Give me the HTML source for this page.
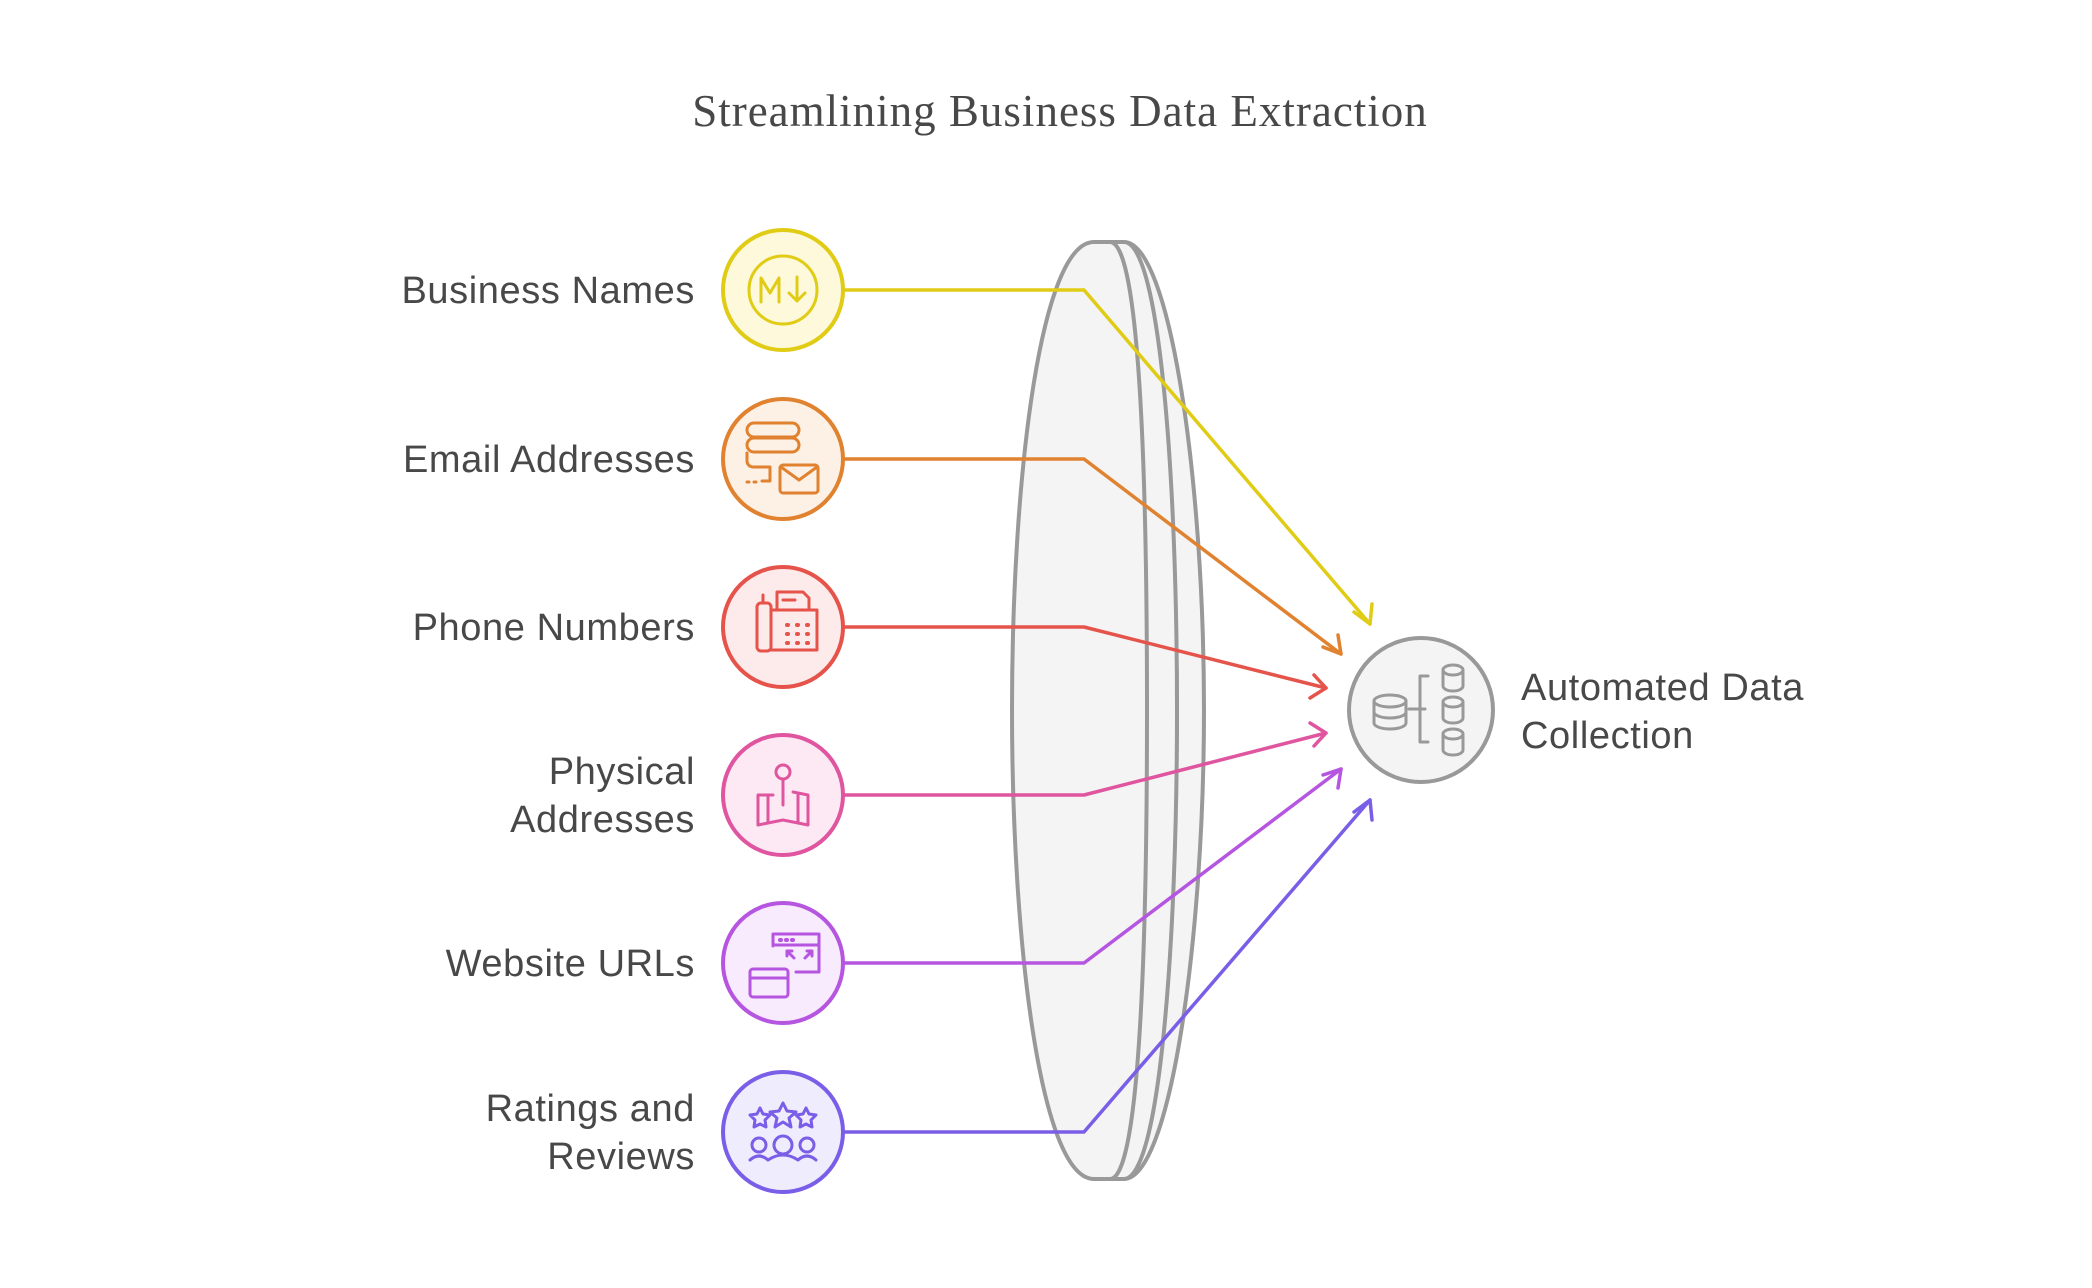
<!DOCTYPE html>
<html><head><meta charset="utf-8"><style>
html,body{margin:0;padding:0;background:#fff;}
svg{display:block;}
.lbl{font-family:"Liberation Sans",sans-serif;font-size:38px;letter-spacing:0.6px;fill:#484848;}
</style></head><body>
<svg width="2092" height="1288" viewBox="0 0 2092 1288" xmlns="http://www.w3.org/2000/svg">
<text x="1060" y="126" text-anchor="middle" font-family="'Liberation Serif',serif" font-size="45" letter-spacing="1" fill="#484848">Streamlining Business Data Extraction</text>

<!-- lens -->
<g stroke="#999" stroke-width="4" fill="#f4f4f4">
<path d="M1124,242 C1170,242 1204,480 1204,710 C1204,940 1170,1179 1124,1179 L1100,1179 C1140,1179 1177,940 1177,710 C1177,480 1140,242 1100,242 Z"/>
<path d="M1124,242 C1160,242 1177,480 1177,710 C1177,940 1160,1179 1124,1179"/>
<path d="M1094,242 C1040,242 1012,480 1012,710 C1012,940 1040,1179 1094,1179 L1110,1179 C1140,1179 1147,940 1147,710 C1147,480 1140,242 1110,242 Z"/>
<path d="M1094,242 L1124,242 M1094,1179 L1124,1179" fill="none"/>
</g>

<!-- connectors -->
<g fill="none" stroke-width="3.5" stroke-linecap="round" stroke-linejoin="round">
<path d="M844,290 L1084,290 L1370,624" stroke="#e0cb15"/>
<path d="M1354,612 L1370,624 L1372,604" stroke="#e0cb15"/>
<path d="M844,459 L1084,459 L1341,654" stroke="#e0822f"/>
<path d="M1323,647 L1341,654 L1338,635" stroke="#e0822f"/>
<path d="M844,627 L1084,627 L1326,688" stroke="#e5534b"/>
<path d="M1310,698 L1326,688 L1314,675" stroke="#e5534b"/>
<path d="M844,795 L1084,795 L1326,733" stroke="#e0559f"/>
<path d="M1314,746 L1326,733 L1310,723" stroke="#e0559f"/>
<path d="M844,963 L1084,963 L1341,769" stroke="#b655e0"/>
<path d="M1338,788 L1341,769 L1323,775" stroke="#b655e0"/>
<path d="M844,1132 L1084,1132 L1370,800" stroke="#7a5ee8"/>
<path d="M1372,820 L1370,800 L1354,812" stroke="#7a5ee8"/>
</g>

<!-- circles -->
<g stroke-width="4">
<circle cx="783" cy="290" r="60" fill="#fef9db" stroke="#e0cb15"/>
<circle cx="783" cy="459" r="60" fill="#fdf0e4" stroke="#e0822f"/>
<circle cx="783" cy="627" r="60" fill="#fdeaea" stroke="#e5534b"/>
<circle cx="783" cy="795" r="60" fill="#fde9f3" stroke="#e0559f"/>
<circle cx="783" cy="963" r="60" fill="#f8ebfd" stroke="#b655e0"/>
<circle cx="783" cy="1132" r="60" fill="#efecfd" stroke="#7a5ee8"/>
<circle cx="1421" cy="710" r="72" fill="#f4f4f4" stroke="#999"/>
</g>

<!-- icons -->
<g fill="none" stroke-width="3" stroke-linecap="round" stroke-linejoin="round">
<g stroke="#e0cb15"><circle cx="783" cy="290" r="34"/><path d="M761,302 V278 L770,293 L779,278 V302 M797,277 V301 M789,293 L797,301 L805,293"/></g>
<g stroke="#e0822f"><rect x="747" y="423" width="52" height="14" rx="7"/><rect x="747" y="438" width="52" height="14" rx="7"/><path d="M747,453 v8 a6,6 0 0 0 6,6 h17 v14 h-8 M747,482 h2 M754,482 h2"/><rect x="780" y="465" width="38" height="28" rx="3"/><path d="M781,467 L799,480 L817,467"/></g>
<g stroke="#e5534b"><rect x="757" y="603" width="14" height="48" rx="4"/><path d="M763,603 v-8 M771,610 h46 v40 h-46 M777,610 v-18 h26 l6,6 v12 M783,600 h12"/><path d="M787,625 h1 M797,625 h1 M807,625 h1 M787,634 h1 M797,634 h1 M807,634 h1 M787,643 h1 M797,643 h1 M807,643 h1" stroke-width="4"/></g>
<g stroke="#e0559f"><circle cx="783" cy="772" r="7"/><path d="M783,779 v26 M773,795 h-15 v30 l25,-5 l25,5 v-30 l-15,-3 M768,795 v28 M798,795 v26"/></g>
<g stroke="#b655e0"><path d="M773,946 v-12 h46 v38 h-23 M773,945 h46"/><path d="M780,940 h1 M786,940 h1 M792,940 h1" stroke-width="4"/><path d="M787,951 l7,7 M787,951 h5 M787,951 v5 M812,951 l-7,7 M812,951 h-5 M812,951 v5"/><rect x="750" y="969" width="38" height="28" rx="3"/><path d="M750,978 h38"/></g>
<g stroke="#7a5ee8"><path d="M783,1103 l4,8 9,1 -7,6 2,9 -8,-5 -8,5 2,-9 -7,-6 9,-1z"/><path d="M760,1108 l3,6 7,1 -5,5 1,7 -6,-3 -6,3 1,-7 -5,-5 7,-1z M806,1108 l3,6 7,1 -5,5 1,7 -6,-3 -6,3 1,-7 -5,-5 7,-1z"/><circle cx="759" cy="1145" r="7"/><circle cx="783" cy="1145" r="9"/><circle cx="807" cy="1145" r="7"/><path d="M750,1160 q9,-8 18,0 q15,-10 30,0 q9,-8 18,0"/></g>
<g stroke="#999"><ellipse cx="1390" cy="701" rx="16" ry="6"/><path d="M1374,701 v22 a16,6 0 0 0 32,0 v-22 M1374,712 a16,6 0 0 0 32,0"/>
<path d="M1409,709 h16 M1428,676 h-8 v66 h8"/>
<ellipse cx="1453" cy="670" rx="10" ry="5"/><path d="M1443,670 v16 a10,5 0 0 0 20,0 v-16"/>
<ellipse cx="1453" cy="702" rx="10" ry="5"/><path d="M1443,702 v16 a10,5 0 0 0 20,0 v-16"/>
<ellipse cx="1453" cy="734" rx="10" ry="5"/><path d="M1443,734 v16 a10,5 0 0 0 20,0 v-16"/></g>
</g>

<!-- labels -->
<g text-anchor="end">
<text x="695" y="303" class="lbl">Business Names</text>
<text x="695" y="472" class="lbl">Email Addresses</text>
<text x="695" y="640" class="lbl">Phone Numbers</text>
<text x="695" y="784" class="lbl">Physical</text>
<text x="695" y="832" class="lbl">Addresses</text>
<text x="695" y="976" class="lbl">Website URLs</text>
<text x="695" y="1121" class="lbl">Ratings and</text>
<text x="695" y="1169" class="lbl">Reviews</text>
</g>
<text x="1521" y="700" class="lbl">Automated Data</text>
<text x="1521" y="748" class="lbl">Collection</text>
</svg>
</body></html>
